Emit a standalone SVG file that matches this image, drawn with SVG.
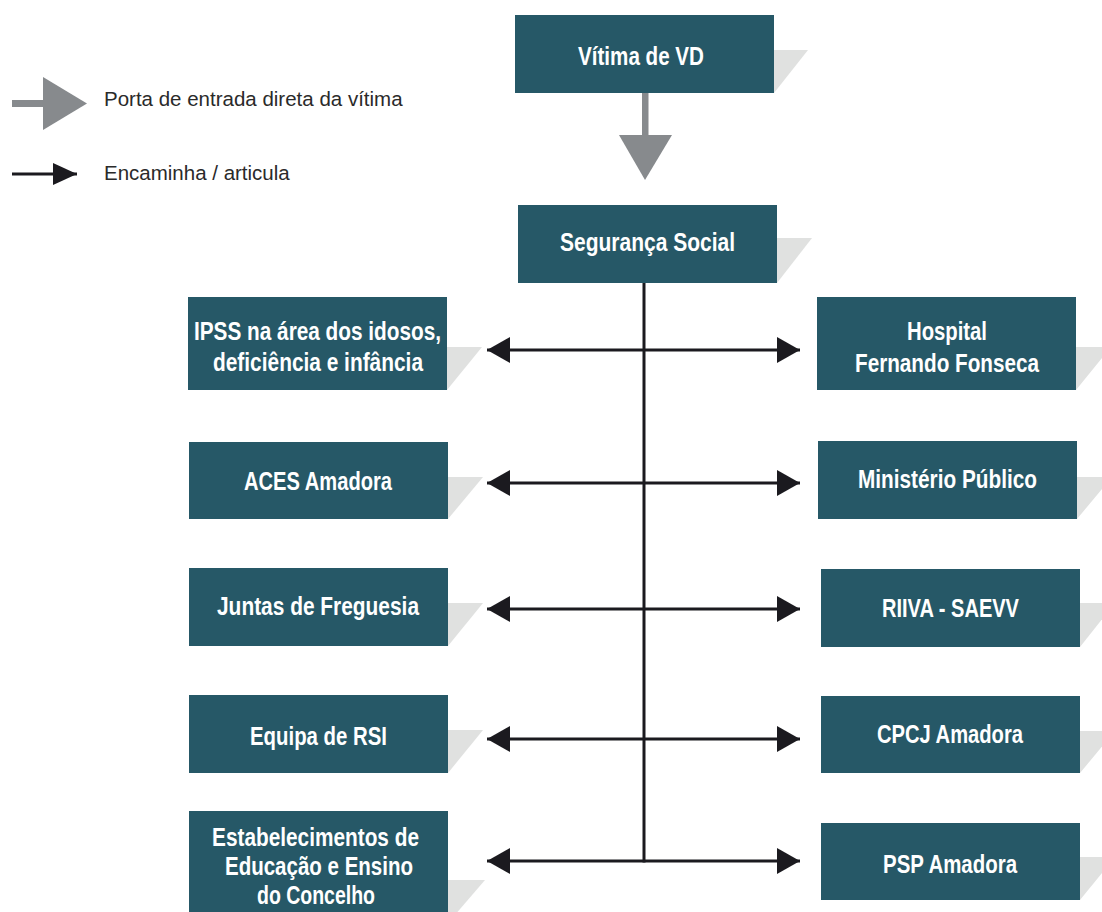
<svg xmlns="http://www.w3.org/2000/svg" width="1102" height="912" viewBox="0 0 1102 912">
<defs>
<style>
.box{fill:#265867}
.shadow{fill:#e0e1e0}
.lbl{font-family:"Liberation Sans",Arial,sans-serif;font-weight:bold;font-size:25px;fill:#ffffff;text-anchor:middle}
.leg{font-family:"Liberation Sans",Arial,sans-serif;font-size:20.5px;fill:#2a2a2a}
.conn{stroke:#1b1a1f;stroke-width:3;fill:none}
.gray{fill:#878a8d}
</style>
<marker id="head" viewBox="0 0 23 26" refX="23" refY="13" markerWidth="23" markerHeight="26" markerUnits="userSpaceOnUse" orient="auto-start-reverse">
<path d="M0,0 L23,13 L0,26 Z" fill="#1b1a1f"/>
</marker>
<marker id="leghead" viewBox="0 0 24 22" refX="24" refY="11" markerWidth="24" markerHeight="22" markerUnits="userSpaceOnUse" orient="auto">
<path d="M0,0 L24,11 L0,22 Z" fill="#1b1a1f"/>
</marker>
</defs>
<rect width="1102" height="912" fill="#ffffff"/>

<g id="legend">
<rect class="gray" x="12" y="100" width="32" height="7"/>
<polygon class="gray" points="43,77 87,103.5 43,130"/>
<text class="leg" x="104" y="105.5">Porta de entrada direta da vítima</text>
<line class="conn" x1="12" y1="174" x2="77" y2="174" marker-end="url(#leghead)"/>
<text class="leg" x="104" y="180">Encaminha / articula</text>
</g>

<g id="connectors">
<rect class="gray" x="642" y="93" width="6.5" height="43"/>
<polygon class="gray" points="619,135 672,135 645,180"/>
<line class="conn" x1="644" y1="283" x2="644" y2="862.5"/>
<line class="conn" x1="487" y1="350" x2="800" y2="350" marker-start="url(#head)" marker-end="url(#head)"/>
<line class="conn" x1="487" y1="483" x2="800" y2="483" marker-start="url(#head)" marker-end="url(#head)"/>
<line class="conn" x1="487" y1="609" x2="800" y2="609" marker-start="url(#head)" marker-end="url(#head)"/>
<line class="conn" x1="487" y1="739" x2="800" y2="739" marker-start="url(#head)" marker-end="url(#head)"/>
<line class="conn" x1="487" y1="861" x2="800" y2="861" marker-start="url(#head)" marker-end="url(#head)"/>
</g>

<g id="vitima">
<polygon class="shadow" points="774,50 808,50 774,93"/>
<rect class="box" x="515" y="15" width="259" height="78"/>
<text class="lbl" x="641" y="65" textLength="126" lengthAdjust="spacingAndGlyphs">Vítima de VD</text>
</g>

<g id="seguranca-social">
<polygon class="shadow" points="777,238 812,238 777,283"/>
<rect class="box" x="518" y="205" width="259" height="78"/>
<text class="lbl" x="647.5" y="251" textLength="175" lengthAdjust="spacingAndGlyphs">Segurança Social</text>
</g>

<g id="ipss">
<polygon class="shadow" points="447,347 482,347 447,390"/>
<rect class="box" x="188" y="297" width="259" height="93"/>
<text class="lbl" x="317.5" y="340" textLength="247" lengthAdjust="spacingAndGlyphs">IPSS na área dos idosos,</text>
<text class="lbl" x="318" y="371" textLength="210" lengthAdjust="spacingAndGlyphs">deficiência e infância</text>
</g>

<g id="aces">
<polygon class="shadow" points="448,477 483,477 448,519"/>
<rect class="box" x="189" y="442" width="259" height="77"/>
<text class="lbl" x="318" y="490" textLength="148" lengthAdjust="spacingAndGlyphs">ACES Amadora</text>
</g>

<g id="juntas">
<polygon class="shadow" points="448,603 483,603 448,646"/>
<rect class="box" x="189" y="568" width="259" height="78"/>
<text class="lbl" x="318" y="615" textLength="202" lengthAdjust="spacingAndGlyphs">Juntas de Freguesia</text>
</g>

<g id="rsi">
<polygon class="shadow" points="448,730 483,730 448,773"/>
<rect class="box" x="189" y="695" width="259" height="78"/>
<text class="lbl" x="318.5" y="745" textLength="137" lengthAdjust="spacingAndGlyphs">Equipa de RSI</text>
</g>

<g id="estabelecimentos">
<polygon class="shadow" points="448,880 485,880 448,923"/>
<rect class="box" x="189" y="811" width="259" height="110"/>
<text class="lbl" x="315.5" y="846" textLength="207" lengthAdjust="spacingAndGlyphs">Estabelecimentos de</text>
<text class="lbl" x="319" y="875" textLength="188" lengthAdjust="spacingAndGlyphs">Educação e Ensino</text>
<text class="lbl" x="316" y="904" textLength="118" lengthAdjust="spacingAndGlyphs">do Concelho</text>
</g>

<g id="hospital">
<polygon class="shadow" points="1076,347 1111,347 1076,390"/>
<rect class="box" x="817" y="297" width="259" height="93"/>
<text class="lbl" x="947" y="340" textLength="80" lengthAdjust="spacingAndGlyphs">Hospital</text>
<text class="lbl" x="947" y="372" textLength="184" lengthAdjust="spacingAndGlyphs">Fernando Fonseca</text>
</g>

<g id="ministerio">
<polygon class="shadow" points="1077,477 1112,477 1077,519"/>
<rect class="box" x="818" y="441" width="259" height="78"/>
<text class="lbl" x="947.5" y="488" textLength="179" lengthAdjust="spacingAndGlyphs">Ministério Público</text>
</g>

<g id="riiva">
<polygon class="shadow" points="1080,603 1115,603 1080,647"/>
<rect class="box" x="821" y="569" width="259" height="78"/>
<text class="lbl" x="950.5" y="617" textLength="137" lengthAdjust="spacingAndGlyphs">RIIVA - SAEVV</text>
</g>

<g id="cpcj">
<polygon class="shadow" points="1080,731 1115,731 1080,773"/>
<rect class="box" x="821" y="696" width="259" height="77"/>
<text class="lbl" x="950" y="743" textLength="146" lengthAdjust="spacingAndGlyphs">CPCJ Amadora</text>
</g>

<g id="psp">
<polygon class="shadow" points="1080,857 1115,857 1080,900"/>
<rect class="box" x="821" y="823" width="259" height="77"/>
<text class="lbl" x="950" y="873" textLength="134" lengthAdjust="spacingAndGlyphs">PSP Amadora</text>
</g>
</svg>
